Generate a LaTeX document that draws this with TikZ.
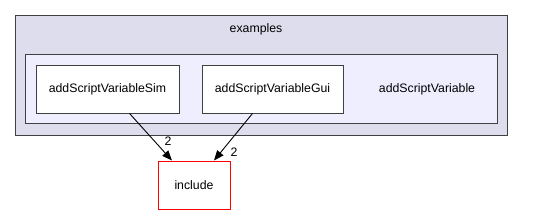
\documentclass[tikz,border=0pt]{standalone}
\usepackage{fontspec}
\setmainfont{Liberation Sans}
\usetikzlibrary{arrows.meta}
\begin{document}
\begin{tikzpicture}[x=1pt,y=-1pt,
  cluster/.style={draw=black!75, line width=1pt},
  dirbox/.style={draw=black!75, fill=white, line width=1pt, minimum height=48pt, inner sep=0pt},
  lbl/.style={font=\fontsize{12.3}{14}\selectfont, inner sep=0pt},
  dep/.style={draw=black, line width=0.9pt, -{Triangle[length=10pt,width=8pt]}}]
\useasboundingbox (0,0) rectangle (536,215);
\fill[fill=white] (0,0) rectangle (536,215);
\draw[cluster, fill={rgb,255:red,221;green,221;blue,238}] (15,15) rectangle (507,135);
\node[lbl] (ex) at (256,29) {examples};
\draw[cluster, fill={rgb,255:red,238;green,238;blue,255}] (25,54) rectangle (497,123);
\node[lbl] (asv) at (427,89) {addScriptVariable};
\node[dirbox, lbl, minimum width=143pt, minimum height=48pt] (sim) at (107.5,89) {addScriptVariableSim};
\node[dirbox, lbl, minimum width=141pt, minimum height=48pt] (gui) at (272.5,89) {addScriptVariableGui};
\node[dirbox, lbl, draw=red, minimum width=72pt, minimum height=48pt] (inc) at (194,185) {include};
\draw[dep] (sim) -- (inc);
\draw[dep] (gui) -- (inc);
\node[lbl] (l1) at (168,141) {2};
\node[lbl] (l2) at (234,152) {2};
\end{tikzpicture}
\end{document}
